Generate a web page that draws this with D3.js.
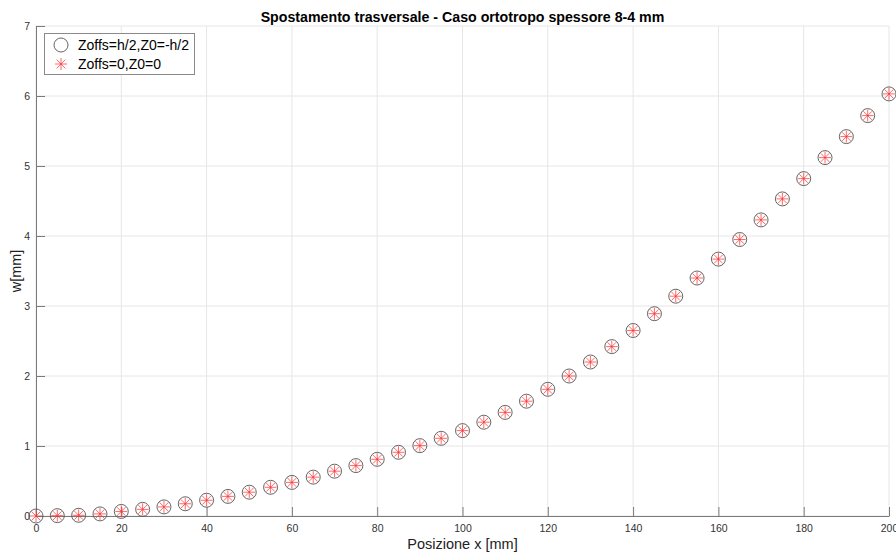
<!DOCTYPE html>
<html>
<head>
<meta charset="utf-8">
<script src="https://cdn.jsdelivr.net/npm/d3@7"></script>
<style>
  body { margin: 0; background: #fff; overflow: hidden; }
  text { font-family: "Liberation Sans", Arial, sans-serif; }
</style>
</head>
<body>
<div id="chart"></div>
<script>
// posizioni lungo la trave [mm]
const posX = d3.range(0, 201, 5);
// spostamento w [mm], Zoffs=h/2, Z0=-h/2
const wOffset = [0, 0.005, 0.01, 0.03, 0.065, 0.095, 0.13, 0.175, 0.225, 0.28,
                 0.34, 0.41, 0.48, 0.555, 0.64, 0.72, 0.81, 0.91, 1.005, 1.11,
                 1.22, 1.34, 1.48, 1.64, 1.81, 2.0, 2.2, 2.42, 2.65, 2.89,
                 3.14, 3.40, 3.67, 3.95, 4.23, 4.53, 4.82, 5.12, 5.42, 5.72, 6.03];
// spostamento w [mm], Zoffs=0, Z0=0 (coincide)
const wZero = wOffset.slice();
const xTicks = [0, 20, 40, 60, 80, 100, 120, 140, 160, 180, 200];
const yTicks = [0, 1, 2, 3, 4, 5, 6, 7];
const legendLabels = ["Zoffs=h/2,Z0=-h/2", "Zoffs=0,Z0=0"];

const WIDTH = 896, HEIGHT = 557;
const M = { left: 36, top: 26, right: 7, bottom: 41 };
const W = WIDTH - M.left - M.right, H = HEIGHT - M.top - M.bottom;

const svg = d3.select("#chart").append("svg")
    .attr("width", WIDTH).attr("height", HEIGHT);

const x = d3.scaleLinear().domain([0, 200]).range([M.left, M.left + W]);
const y = d3.scaleLinear().domain([0, 7]).range([M.top + H, M.top]);

// griglia
svg.append("g").selectAll("line").data(xTicks).join("line")
    .attr("x1", d => x(d)).attr("x2", d => x(d))
    .attr("y1", y(0)).attr("y2", y(7))
    .attr("stroke", "#e6e6e6").attr("stroke-width", 1);
svg.append("g").selectAll("line").data(yTicks).join("line")
    .attr("x1", x(0)).attr("x2", x(200))
    .attr("y1", d => y(d)).attr("y2", d => y(d))
    .attr("stroke", "#e6e6e6").attr("stroke-width", 1);

// assi (tick verso l'interno, stile MATLAB)
const xAxis = svg.append("g").attr("transform", `translate(0,${y(0)})`)
    .call(d3.axisBottom(x).tickValues(xTicks).tickFormat(d3.format("d"))
          .tickSize(-9).tickPadding(9).tickSizeOuter(0));
const yAxis = svg.append("g").attr("transform", `translate(${x(0)},0)`)
    .call(d3.axisLeft(y).tickValues(yTicks).tickFormat(d3.format("d"))
          .tickSize(-9).tickPadding(6).tickSizeOuter(0));
[xAxis, yAxis].forEach(a => {
  a.select(".domain").attr("stroke", "#7a7a7a");
  a.selectAll(".tick line").attr("stroke", "#7a7a7a");
  a.selectAll(".tick text").attr("fill", "#333").style("font-size", "10.5px")
      .style("font-family", "'Liberation Sans', Arial, sans-serif");
});
yAxis.selectAll(".tick text").attr("x", -6);

// marker
function circleMark(g) {
  g.append("circle").attr("r", 7).attr("fill", "none")
   .attr("stroke", "#555").attr("stroke-width", 0.9);
}
function starMark(g) {
  const r = 6, d = r * 0.72;
  const p = `M${-r},0L${r},0M0,${-r}L0,${r}M${-d},${-d}L${d},${d}M${-d},${d}L${d},${-d}`;
  g.append("path").attr("d", p).attr("stroke", "#ff2a2a").attr("stroke-width", 0.7)
   .attr("fill", "none");
}

const pts1 = posX.map((v, i) => [v, wOffset[i]]);
const pts2 = posX.map((v, i) => [v, wZero[i]]);
svg.append("g").selectAll("g").data(pts1).join("g")
    .attr("transform", d => `translate(${x(d[0])},${y(d[1])})`)
    .each(function() { circleMark(d3.select(this)); });
svg.append("g").selectAll("g").data(pts2).join("g")
    .attr("transform", d => `translate(${x(d[0])},${y(d[1])})`)
    .each(function() { starMark(d3.select(this)); });

// titolo ed etichette
svg.append("text").attr("x", M.left + W / 2).attr("y", 22)
    .attr("text-anchor", "middle").style("font-size", "14.2px").style("font-weight", "bold")
    .attr("fill", "#000").text("Spostamento trasversale - Caso ortotropo spessore 8-4 mm");
svg.append("text").attr("x", M.left + W / 2).attr("y", 549)
    .attr("text-anchor", "middle").style("font-size", "14.5px").attr("fill", "#222")
    .text("Posizione x [mm]");
svg.append("text").attr("transform", `translate(21,${M.top + H / 2}) rotate(-90)`)
    .attr("text-anchor", "middle").style("font-size", "14.5px").attr("fill", "#222")
    .text("w[mm]");

// legenda
const leg = svg.append("g");
leg.append("rect").attr("x", 44.5).attr("y", 33.5).attr("width", 150).attr("height", 41)
    .attr("fill", "#fff").attr("stroke", "#8a8a8a").attr("stroke-width", 1);
legendLabels.forEach((lab, i) => {
  const gy = 45 + i * 19;
  const m = leg.append("g").attr("transform", `translate(61,${gy})`);
  if (i === 0) circleMark(m); else starMark(m);
  leg.append("text").attr("x", 78).attr("y", gy + 5).style("font-size", "14px")
     .attr("fill", "#000").text(lab);
});
</script>
</body>
</html>
